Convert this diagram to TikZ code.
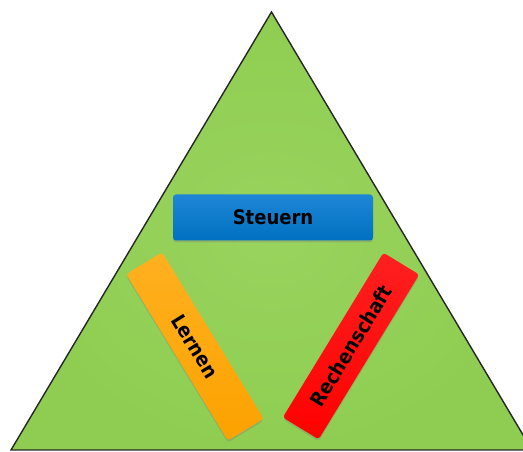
\documentclass[tikz,border=0pt]{standalone}
\usepackage{fontspec}
\newfontfamily\labfont[FakeStretch=0.9]{DejaVu Sans}
\usetikzlibrary{shadows}
\definecolor{trigreen}{HTML}{8FCD52}
\definecolor{trilight}{HTML}{99D45E}
\definecolor{boxblue}{HTML}{0070C0}
\definecolor{boxblueL}{HTML}{1F86D6}
\definecolor{boxorange}{HTML}{FCA200}
\definecolor{boxorangeL}{HTML}{FFB020}
\definecolor{boxred}{HTML}{FF0000}
\definecolor{boxredL}{HTML}{FF2020}
\tikzset{
  bar/.style={minimum height=42pt, inner sep=0pt, rounded corners=3pt,
    font=\labfont\bfseries\fontsize{20}{24}\selectfont, text=black,
    drop shadow={shadow xshift=0pt, shadow yshift=-2pt, opacity=0.35}},
}
\begin{document}
\begin{tikzpicture}[x=1pt,y=1pt]
\useasboundingbox (0,0) rectangle (523,452);
\clip (0,0) rectangle (523,452);
\path[draw=black!85, line width=1.4pt, inner color=trilight, outer color=trigreen]
  (271.5,440) coordinate (apex) -- (11,2) coordinate (bl) -- (532,2) coordinate (br) -- cycle;
\node[bar, minimum width=200pt, minimum height=46pt, top color=boxblueL, bottom color=boxblue]
  (steuern) at (273,234.5) {Steuern};
\node[bar, minimum width=195pt, rotate=-58.6, top color=boxorangeL, bottom color=boxorange]
  (lernen) at (195,105.5) {Lernen};
\node[bar, minimum width=193pt, rotate=58.6, top color=boxredL, bottom color=boxred]
  (rechenschaft) at (351,106) {Rechenschaft};
\end{tikzpicture}
\end{document}
